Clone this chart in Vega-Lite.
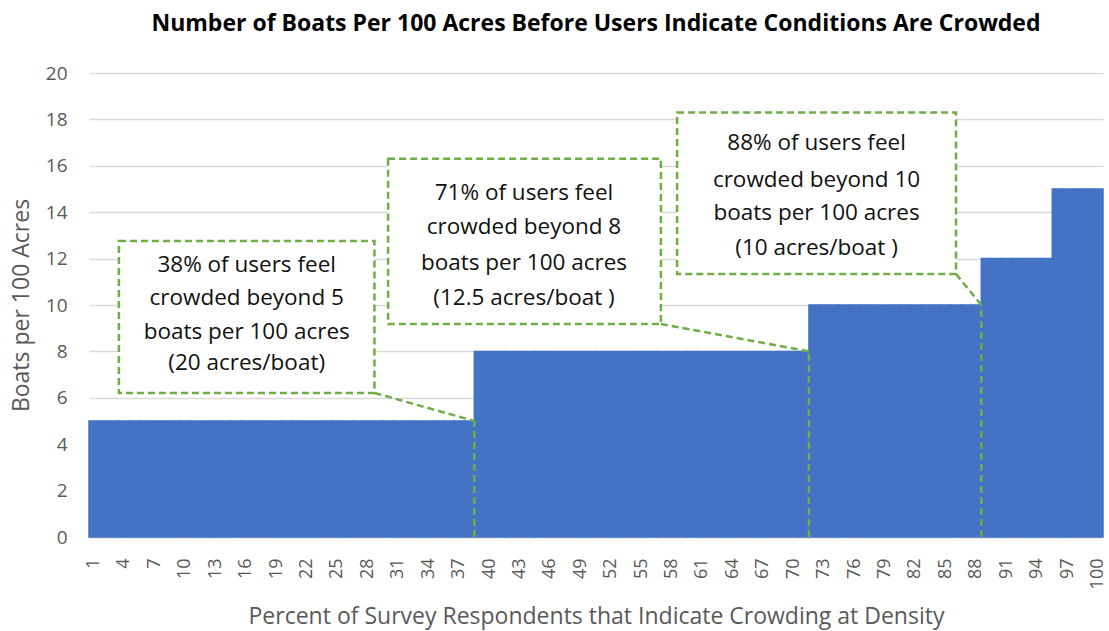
{
  "$schema": "https://vega.github.io/schema/vega-lite/v6.json",
  "width": 1014,
  "height": 464,
  "autosize": {"type": "none"},
  "padding": {"left": 89, "top": 73, "right": 6, "bottom": 94},
  "background": "white",
  "config": {"view": {"stroke": null}, "font": "Open Sans"},
  "title": {"text": "Number of Boats Per 100 Acres Before Users Indicate Conditions Are Crowded", "font": "Open Sans", "fontSize": 23, "fontWeight": "bold", "color": "#000000", "offset": 28, "anchor": "middle"},
  "resolve": {"scale": {"x": "independent"}},
  "layer": [
    {
      "data": {"values": [
        {"pct":1,"boats":5},{"pct":2,"boats":5},{"pct":3,"boats":5},{"pct":4,"boats":5},{"pct":5,"boats":5},{"pct":6,"boats":5},{"pct":7,"boats":5},{"pct":8,"boats":5},{"pct":9,"boats":5},{"pct":10,"boats":5},
        {"pct":11,"boats":5},{"pct":12,"boats":5},{"pct":13,"boats":5},{"pct":14,"boats":5},{"pct":15,"boats":5},{"pct":16,"boats":5},{"pct":17,"boats":5},{"pct":18,"boats":5},{"pct":19,"boats":5},{"pct":20,"boats":5},
        {"pct":21,"boats":5},{"pct":22,"boats":5},{"pct":23,"boats":5},{"pct":24,"boats":5},{"pct":25,"boats":5},{"pct":26,"boats":5},{"pct":27,"boats":5},{"pct":28,"boats":5},{"pct":29,"boats":5},{"pct":30,"boats":5},
        {"pct":31,"boats":5},{"pct":32,"boats":5},{"pct":33,"boats":5},{"pct":34,"boats":5},{"pct":35,"boats":5},{"pct":36,"boats":5},{"pct":37,"boats":5},{"pct":38,"boats":5},{"pct":39,"boats":8},{"pct":40,"boats":8},
        {"pct":41,"boats":8},{"pct":42,"boats":8},{"pct":43,"boats":8},{"pct":44,"boats":8},{"pct":45,"boats":8},{"pct":46,"boats":8},{"pct":47,"boats":8},{"pct":48,"boats":8},{"pct":49,"boats":8},{"pct":50,"boats":8},
        {"pct":51,"boats":8},{"pct":52,"boats":8},{"pct":53,"boats":8},{"pct":54,"boats":8},{"pct":55,"boats":8},{"pct":56,"boats":8},{"pct":57,"boats":8},{"pct":58,"boats":8},{"pct":59,"boats":8},{"pct":60,"boats":8},
        {"pct":61,"boats":8},{"pct":62,"boats":8},{"pct":63,"boats":8},{"pct":64,"boats":8},{"pct":65,"boats":8},{"pct":66,"boats":8},{"pct":67,"boats":8},{"pct":68,"boats":8},{"pct":69,"boats":8},{"pct":70,"boats":8},
        {"pct":71,"boats":8},{"pct":72,"boats":10},{"pct":73,"boats":10},{"pct":74,"boats":10},{"pct":75,"boats":10},{"pct":76,"boats":10},{"pct":77,"boats":10},{"pct":78,"boats":10},{"pct":79,"boats":10},{"pct":80,"boats":10},
        {"pct":81,"boats":10},{"pct":82,"boats":10},{"pct":83,"boats":10},{"pct":84,"boats":10},{"pct":85,"boats":10},{"pct":86,"boats":10},{"pct":87,"boats":10},{"pct":88,"boats":10},{"pct":89,"boats":12},{"pct":90,"boats":12},
        {"pct":91,"boats":12},{"pct":92,"boats":12},{"pct":93,"boats":12},{"pct":94,"boats":12},{"pct":95,"boats":12},{"pct":96,"boats":15},{"pct":97,"boats":15},{"pct":98,"boats":15},{"pct":99,"boats":15},{"pct":100,"boats":15}
      ]},
      "mark": {"type": "bar", "color": "#4472C4", "stroke": "#4472C4", "strokeWidth": 1.5},
      "encoding": {
        "x": {"field": "pct", "type": "ordinal",
          "scale": {"paddingInner": 0, "paddingOuter": 0},
          "axis": {"values": [1,4,7,10,13,16,19,22,25,28,31,34,37,40,43,46,49,52,55,58,61,64,67,70,73,76,79,82,85,88,91,94,97,100],
            "labelAngle": -90, "labelFontSize": 18, "labelColor": "#595959", "labelPadding": 21, "ticks": false,
            "domainColor": "#d9d9d9", "domainWidth": 1.5, "grid": false,
            "title": "Percent of Survey Respondents that Indicate Crowding at Density", "titleFontSize": 23, "titleFontWeight": "normal", "titleColor": "#595959", "titlePadding": 17}},
        "y": {"field": "boats", "type": "quantitative",
          "scale": {"domain": [0, 20], "nice": false},
          "axis": {"values": [0,2,4,6,8,10,12,14,16,18,20], "title": "Boats per 100 Acres", "grid": true, "gridColor": "#d9d9d9", "gridWidth": 1.5,
            "domain": false, "ticks": false, "labelFontSize": 19, "labelColor": "#595959", "labelPadding": 22,
            "titleFontSize": 23, "titleFontWeight": "normal", "titleColor": "#595959", "titlePadding": 12}}
      }
    },
    {
      "data": {"values": [
        {"left": 2.95, "right": 28.15, "bottom": 6.21, "top": 12.76},
        {"left": 29.5, "right": 56.4, "bottom": 9.18, "top": 16.3},
        {"left": 58.0, "right": 85.5, "bottom": 11.34, "top": 18.3}
      ]},
      "mark": {"type": "rect", "fill": "white", "stroke": "#70AD47", "strokeWidth": 2.5, "strokeDash": [7, 4]},
      "encoding": {
        "x": {"field": "left", "type": "quantitative", "scale": {"domain": [0, 100], "nice": false, "zero": false}, "axis": null},
        "x2": {"field": "right"},
        "y": {"field": "bottom", "type": "quantitative", "title": "Boats per 100 Acres"},
        "y2": {"field": "top"}
      }
    },
    {
      "data": {"values": [
        {"xa": 28.15, "ya": 6.21, "xb": 38, "yb": 5},
        {"xa": 56.4, "ya": 9.18, "xb": 71, "yb": 8},
        {"xa": 85.5, "ya": 11.34, "xb": 88, "yb": 10},
        {"xa": 38, "ya": 0, "xb": 38, "yb": 5},
        {"xa": 71, "ya": 0, "xb": 71, "yb": 8},
        {"xa": 88, "ya": 0, "xb": 88, "yb": 10}
      ]},
      "mark": {"type": "rule", "color": "#70AD47", "strokeWidth": 2.5, "strokeDash": [7, 4]},
      "encoding": {
        "x": {"field": "xa", "type": "quantitative", "scale": {"domain": [0, 100], "nice": false, "zero": false}, "axis": null},
        "x2": {"field": "xb"},
        "y": {"field": "ya", "type": "quantitative", "title": "Boats per 100 Acres"},
        "y2": {"field": "yb"}
      }
    },
    {
      "data": {"values": [
        {"cx": 15.55, "cy": 11.72, "line": "38% of users feel"},
        {"cx": 15.55, "cy": 10.30, "line": "crowded beyond 5"},
        {"cx": 15.55, "cy": 8.84, "line": "boats per 100 acres"},
        {"cx": 15.55, "cy": 7.50, "line": "(20 acres/boat)"},
        {"cx": 42.9, "cy": 14.83, "line": "71% of users feel"},
        {"cx": 42.9, "cy": 13.36, "line": "crowded beyond 8"},
        {"cx": 42.9, "cy": 11.81, "line": "boats per 100 acres"},
        {"cx": 42.9, "cy": 10.30, "line": "(12.5 acres/boat )"},
        {"cx": 71.75, "cy": 16.98, "line": "88% of users feel"},
        {"cx": 71.75, "cy": 15.39, "line": "crowded beyond 10"},
        {"cx": 71.75, "cy": 13.96, "line": "boats per 100 acres"},
        {"cx": 71.75, "cy": 12.46, "line": "(10 acres/boat )"}
      ]},
      "mark": {"type": "text", "font": "Open Sans", "fontSize": 22.5, "color": "#111111", "align": "center", "baseline": "middle"},
      "encoding": {
        "x": {"field": "cx", "type": "quantitative", "scale": {"domain": [0, 100], "nice": false, "zero": false}, "axis": null},
        "y": {"field": "cy", "type": "quantitative", "title": "Boats per 100 Acres"},
        "text": {"field": "line", "type": "nominal"}
      }
    }
  ]
}
